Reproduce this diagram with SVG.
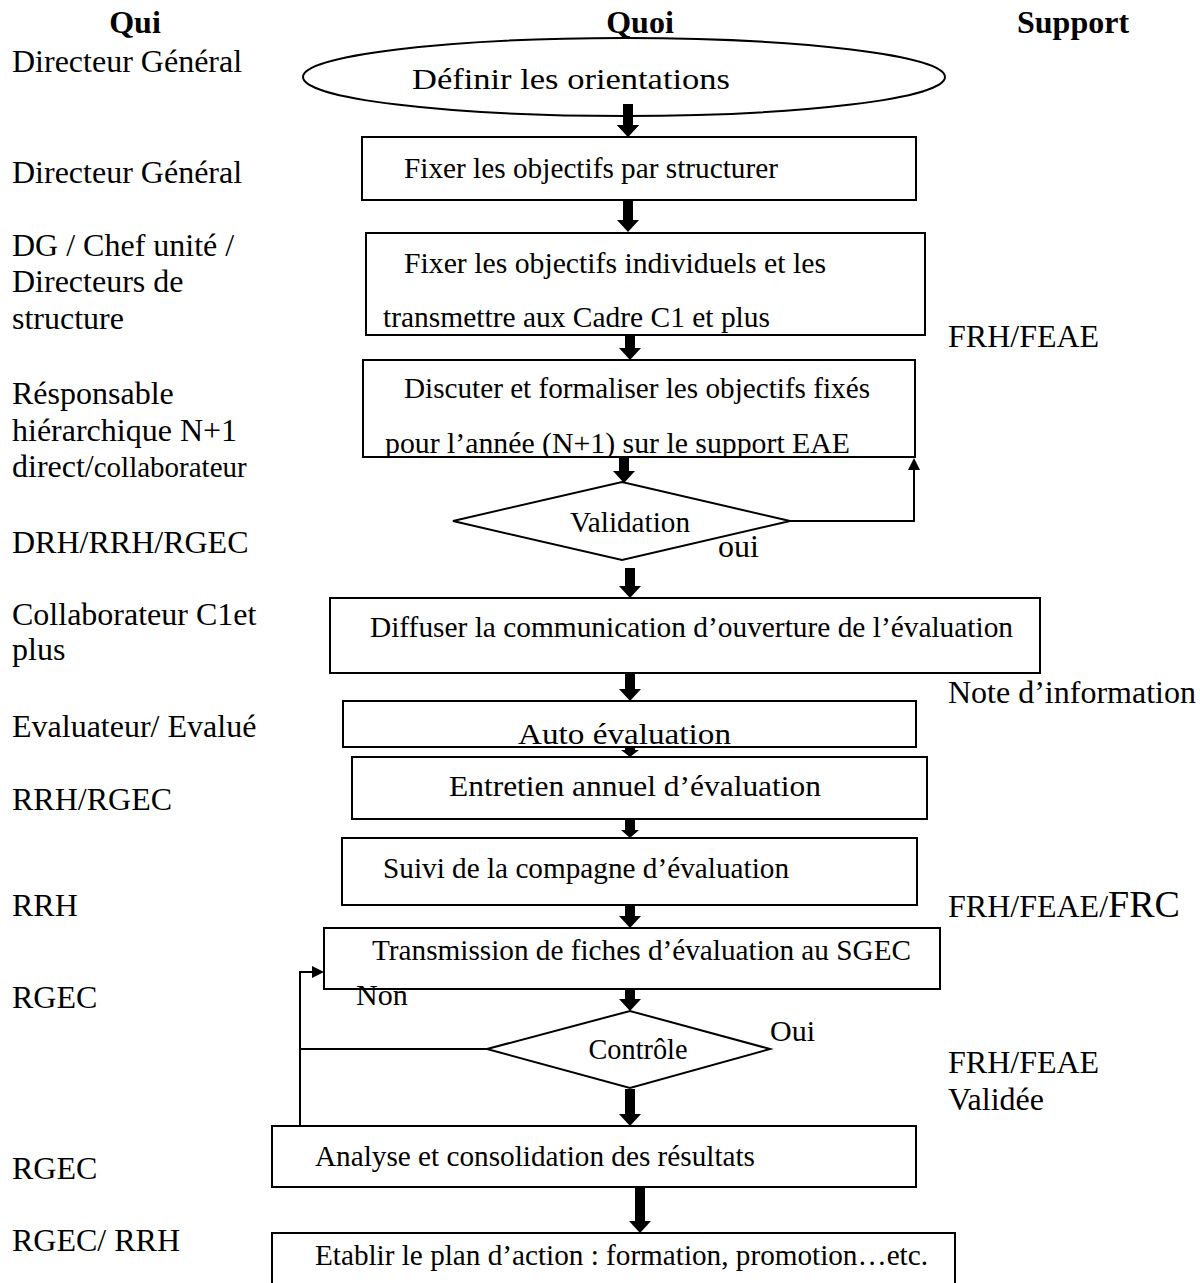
<svg xmlns="http://www.w3.org/2000/svg" width="1200" height="1283" viewBox="0 0 1200 1283">
  <style>
    text { font-family: "Liberation Serif", "Times New Roman", serif; fill: #000; }
    .head { font-size: 32px; font-weight: bold; }
    .who { font-size: 32px; }
    .sup { font-size: 32px; }
    .lbl { font-size: 30px; }
    .box { fill: #fff; stroke: #000; stroke-width: 2; }
    .flow { stroke: #000; stroke-width: 10; fill: none; }
    .link { stroke: #000; stroke-width: 2; fill: none; }
  </style>
  <defs>
    <marker id="thick" viewBox="0 0 12 22" markerWidth="12" markerHeight="22" refX="0" refY="11" orient="auto" markerUnits="userSpaceOnUse">
      <path d="M0,0 L12,11 L0,22 z" fill="#000"/>
    </marker>
    <marker id="thin" viewBox="0 0 12 12" markerWidth="12" markerHeight="12" refX="0" refY="6" orient="auto" markerUnits="userSpaceOnUse">
      <path d="M0,0 L12,6 L0,12 z" fill="#000"/>
    </marker>
    <clipPath id="clip-b3"><rect x="366" y="233" width="559" height="102"/></clipPath>
    <clipPath id="clip-b4"><rect x="363" y="360" width="552" height="97"/></clipPath>
    <clipPath id="clip-b6"><rect x="343" y="701" width="573" height="46"/></clipPath>
  </defs>

  <!-- column headers -->
  <g id="headers">
    <text class="head" x="135" y="33" text-anchor="middle">Qui</text>
    <text class="head" x="640" y="33" text-anchor="middle">Quoi</text>
    <text class="head" x="1017" y="33">Support</text>
  </g>

  <!-- who column -->
  <g id="qui">
    <text class="who" x="12" y="72">Directeur Général</text>
    <text class="who" x="12" y="183">Directeur Général</text>
    <text class="who" x="12" y="256">DG / Chef unité /</text>
    <text class="who" x="12" y="292">Directeurs de</text>
    <text class="who" x="12" y="329">structure</text>
    <text class="who" x="12" y="404">Résponsable</text>
    <text class="who" x="12" y="441">hiérarchique N+1</text>
    <text class="who" x="12" y="477">direct/<tspan font-size="29">collaborateur</tspan></text>
    <text class="who" x="12" y="553">DRH/RRH/RGEC</text>
    <text class="who" x="12" y="625">Collaborateur C1et</text>
    <text class="who" x="12" y="660">plus</text>
    <text class="who" x="12" y="737">Evaluateur/ Evalué</text>
    <text class="who" x="12" y="810">RRH/RGEC</text>
    <text class="who" x="12" y="916">RRH</text>
    <text class="who" x="12" y="1008">RGEC</text>
    <text class="who" x="12" y="1179">RGEC</text>
    <text class="who" x="12" y="1251">RGEC/ RRH</text>
  </g>

  <!-- support column -->
  <g id="support">
    <text class="sup" x="948" y="347">FRH/FEAE</text>
    <text class="sup" x="948" y="703">Note d’information</text>
    <text class="sup" x="948" y="917">FRH/FEAE/<tspan font-size="38">FRC</tspan></text>
    <text class="sup" x="948" y="1073">FRH/FEAE</text>
    <text class="sup" x="948" y="1110">Validée</text>
  </g>

  <!-- connectors -->
  <g id="connectors">
    <line class="flow" x1="628" y1="104" x2="628" y2="125" marker-end="url(#thick)"/>
    <line class="flow" x1="628" y1="201" x2="628" y2="220" marker-end="url(#thick)"/>
    <line class="flow" x1="630" y1="336" x2="630" y2="348" marker-end="url(#thick)"/>
    <line class="flow" x1="624" y1="458" x2="624" y2="471" marker-end="url(#thick)"/>
    <path class="link" d="M790,521 H914 V470" marker-end="url(#thin)"/>
    <line class="flow" x1="630" y1="568" x2="630" y2="586" marker-end="url(#thick)"/>
    <line class="flow" x1="630" y1="674" x2="630" y2="689" marker-end="url(#thick)"/>
    <line class="flow" x1="630" y1="747" x2="630" y2="750" stroke-width="8"/>
    <path d="M621,750 L639,750 L630,757 z" fill="#000"/>
    <line class="flow" x1="630" y1="820" x2="630" y2="830" stroke-width="8"/>
    <path d="M621,830 L639,830 L630,838 z" fill="#000"/>
    <line class="flow" x1="630" y1="905" x2="630" y2="916" marker-end="url(#thick)"/>
    <line class="flow" x1="630" y1="989" x2="630" y2="999" marker-end="url(#thick)"/>
    <path class="link" d="M487,1049 H300"/>
    <path class="link" d="M300,1126 V972 H312" marker-end="url(#thin)"/>
    <line class="flow" x1="630" y1="1089" x2="630" y2="1114" marker-end="url(#thick)"/>
    <line class="flow" x1="640" y1="1188" x2="640" y2="1221" marker-end="url(#thick)"/>
  </g>

  <!-- steps -->
  <g id="n-orientations">
    <ellipse class="box" cx="624" cy="77" rx="321" ry="39"/>
    <text class="lbl" x="412" y="89" font-size="33" textLength="318" lengthAdjust="spacingAndGlyphs">Définir les orientations</text>
  </g>
  <line class="flow" x1="628" y1="104" x2="628" y2="125" marker-end="url(#thick)"/>

  <g id="n-objectifs-structure">
    <rect class="box" x="362" y="137" width="554" height="63"/>
    <text class="lbl" x="404" y="178" textLength="374" lengthAdjust="spacingAndGlyphs">Fixer les objectifs par structurer</text>
  </g>

  <g id="n-objectifs-individuels">
    <rect class="box" x="366" y="233" width="559" height="102"/>
    <g clip-path="url(#clip-b3)">
      <text class="lbl" x="404" y="273" textLength="422" lengthAdjust="spacingAndGlyphs">Fixer les objectifs individuels et les</text>
      <text class="lbl" x="383" y="327" textLength="387" lengthAdjust="spacingAndGlyphs">transmettre aux Cadre C1 et plus</text>
    </g>
    <rect class="link" x="366" y="233" width="559" height="102"/>
  </g>

  <g id="n-discuter">
    <rect class="box" x="363" y="360" width="552" height="97"/>
    <g clip-path="url(#clip-b4)">
      <text class="lbl" x="404" y="398" textLength="466" lengthAdjust="spacingAndGlyphs">Discuter et formaliser les objectifs fixés</text>
      <text class="lbl" x="385" y="453" textLength="465" lengthAdjust="spacingAndGlyphs">pour l’année (N+1) sur le support EAE</text>
    </g>
    <rect class="link" x="363" y="360" width="552" height="97"/>
  </g>

  <g id="n-validation">
    <polygon class="box" points="453,521 622,482 790,521 622,560"/>
    <text class="lbl" x="630" y="532" text-anchor="middle" textLength="120" lengthAdjust="spacingAndGlyphs">Validation</text>
    <text class="sup" x="718" y="557" font-size="34">oui</text>
  </g>

  <g id="n-diffuser">
    <rect class="box" x="330" y="598" width="710" height="75"/>
    <text class="lbl" x="370" y="637" textLength="643" lengthAdjust="spacingAndGlyphs">Diffuser la communication d’ouverture de l’évaluation</text>
  </g>

  <g id="n-auto">
    <rect class="box" x="343" y="701" width="573" height="46"/>
    <g clip-path="url(#clip-b6)">
      <text class="lbl" x="518" y="744" textLength="213" lengthAdjust="spacingAndGlyphs">Auto évaluation</text>
    </g>
    <rect class="link" x="343" y="701" width="573" height="46"/>
  </g>

  <g id="n-entretien">
    <rect class="box" x="352" y="757" width="575" height="62"/>
    <text class="lbl" x="449" y="796" textLength="372" lengthAdjust="spacingAndGlyphs">Entretien annuel d’évaluation</text>
  </g>

  <g id="n-suivi">
    <rect class="box" x="342" y="838" width="575" height="67"/>
    <text class="lbl" x="383" y="878" textLength="406" lengthAdjust="spacingAndGlyphs">Suivi de la compagne d’évaluation</text>
  </g>

  <g id="n-transmission">
    <rect class="box" x="324" y="928" width="616" height="61"/>
    <text class="lbl" x="372" y="960" textLength="539" lengthAdjust="spacingAndGlyphs">Transmission de fiches d’évaluation au SGEC</text>
    <text class="lbl" x="356" y="1005">Non</text>
  </g>

  <g id="n-controle">
    <polygon class="box" points="487,1049 630,1011 770,1049 630,1088"/>
    <text class="lbl" x="638" y="1059" text-anchor="middle" textLength="99" lengthAdjust="spacingAndGlyphs">Contrôle</text>
    <text class="lbl" x="770" y="1041">Oui</text>
  </g>

  <g id="n-analyse">
    <rect class="box" x="272" y="1126" width="644" height="61"/>
    <text class="lbl" x="315" y="1166" textLength="440" lengthAdjust="spacingAndGlyphs">Analyse et consolidation des résultats</text>
  </g>

  <g id="n-plan">
    <rect class="box" x="272" y="1233" width="683" height="70"/>
    <text class="lbl" x="315" y="1265" textLength="613" lengthAdjust="spacingAndGlyphs">Etablir le plan d’action : formation, promotion…etc.</text>
  </g>
</svg>
